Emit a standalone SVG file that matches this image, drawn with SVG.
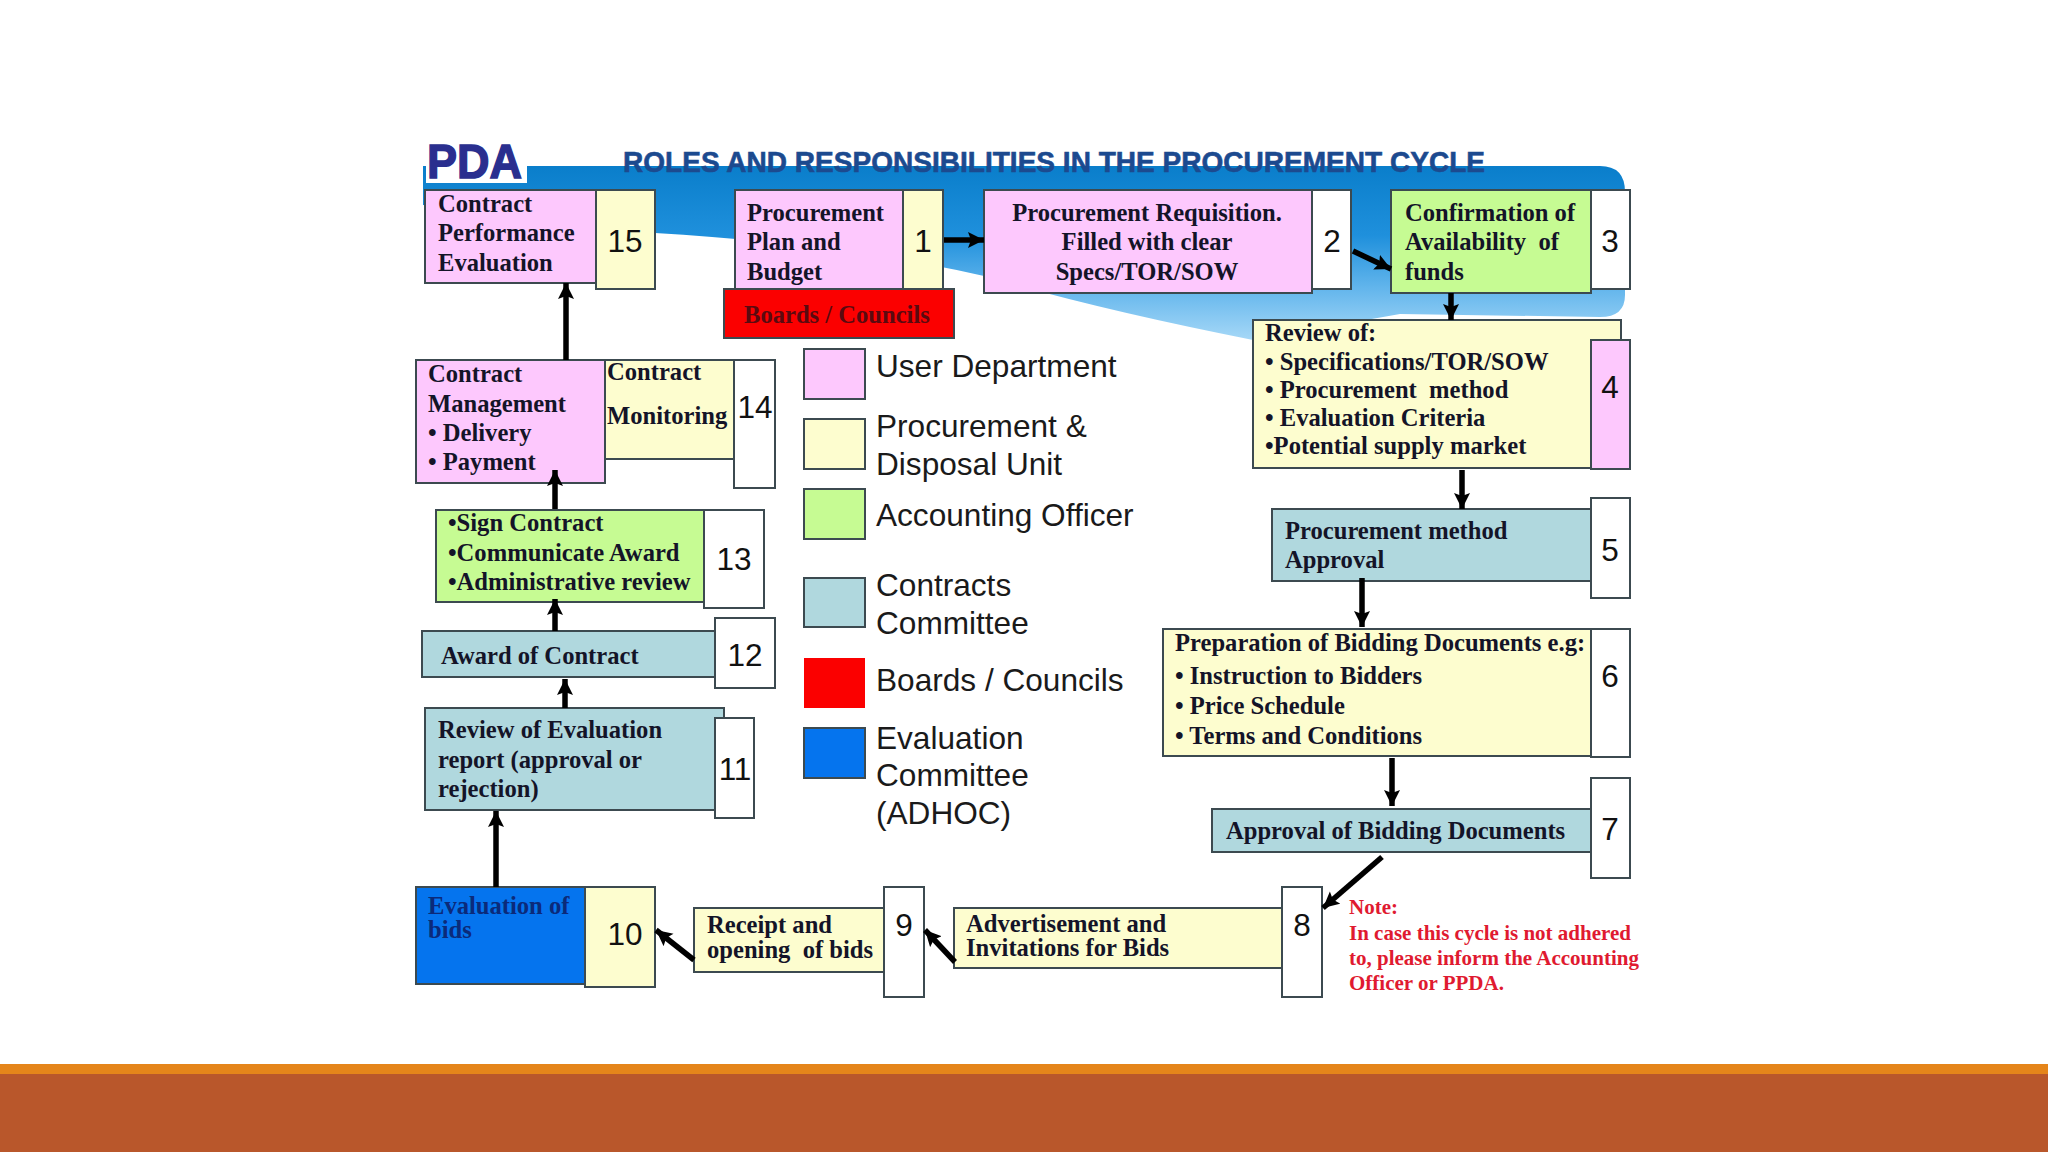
<svg xmlns="http://www.w3.org/2000/svg" width="2048" height="1152" viewBox="0 0 2048 1152">
<style>
.b{stroke:#3c4a50;stroke-width:2}
.pk{fill:#fdc8fd}.yl{fill:#fdfdcf}.gr{fill:#c6fb93}.tl{fill:#b0d8de}.wh{fill:#fff}.rd{fill:#fb0000}.bl{fill:#0574ee}
.t{font-family:"Liberation Serif",serif;font-weight:bold;font-size:24.6px;fill:#141428}
.n{font-family:"Liberation Sans",sans-serif;font-size:31.5px;fill:#111;text-anchor:middle}
.l{font-family:"Liberation Sans",sans-serif;font-size:31.6px;fill:#1a1a1a}
.c{stroke:#000;stroke-width:5.5;fill:none;marker-end:url(#a)}
</style>
<defs>
<marker id="a" markerUnits="userSpaceOnUse" markerWidth="20" markerHeight="20" refX="16" refY="8" orient="auto"><path d="M0 0L16 8L0 16L3 8Z" fill="#000"/></marker>
<linearGradient id="sw" x1="0" y1="0" x2="0" y2="1"><stop offset="0" stop-color="#0a7ecb"/><stop offset=".4" stop-color="#1f90dc"/><stop offset=".7" stop-color="#62b5ec"/><stop offset="1" stop-color="#a6d8f7"/></linearGradient>
</defs>
<rect width="2048" height="1152" fill="#fff"/>
<rect y="1064" width="2048" height="10" fill="#e5851a"/>
<rect y="1074" width="2048" height="78" fill="#b9572b"/>
<path id="swoosh" d="M423 166H1600Q1625 166 1625 192V295Q1625 317 1600 317L1400 314L1253 340Q1100 310 984 276Q850 245 655 233L423 205Z" fill="url(#sw)"/>
<rect x="426" y="130" width="101" height="53" fill="#fff"/>
<text x="427" y="178" font-family="Liberation Sans,sans-serif" font-weight="bold" font-size="49" fill="#2a2f8f" stroke="#2a2f8f" stroke-width="1.5" textLength="95" lengthAdjust="spacingAndGlyphs">PDA</text>
<text x="623" y="172" font-family="Liberation Sans,sans-serif" font-weight="bold" font-size="29" fill="#1c4a8f" stroke="#1c4a8f" stroke-width=".6" textLength="862" lengthAdjust="spacingAndGlyphs">ROLES AND RESPONSIBILITIES IN THE PROCUREMENT CYCLE</text>
<g id="n15"><rect class="b pk" x="425" y="190" width="171" height="93"/><rect class="b yl" x="596" y="190" width="59" height="99"/><text class="t" x="438" y="212">Contract</text><text class="t" x="438" y="241">Performance</text><text class="t" x="438" y="271">Evaluation</text><text class="n" x="625" y="252">15</text></g>
<g id="n1"><rect class="b pk" x="735" y="190" width="168" height="99"/><rect class="b yl" x="903" y="190" width="40" height="99"/><text class="t" x="747" y="221">Procurement</text><text class="t" x="747" y="250">Plan and</text><text class="t" x="747" y="280">Budget</text><text class="n" x="923" y="252">1</text></g>
<g id="boards"><rect class="b rd" x="724" y="289" width="230" height="49"/><text class="t" x="744" y="323" style="fill:#5a0a10">Boards / Councils</text></g>
<g id="n2"><rect class="b pk" x="984" y="190" width="328" height="103"/><rect class="b wh" x="1312" y="190" width="39" height="99"/><g text-anchor="middle"><text class="t" x="1147" y="221">Procurement Requisition.</text><text class="t" x="1147" y="250">Filled with clear</text><text class="t" x="1147" y="280">Specs/TOR/SOW</text></g><text class="n" x="1332" y="252">2</text></g>
<g id="n3"><rect class="b gr" x="1391" y="190" width="200" height="103"/><rect class="b wh" x="1591" y="190" width="39" height="99"/><text class="t" x="1405" y="221">Confirmation of</text><text class="t" x="1405" y="250" xml:space="preserve">Availability  of</text><text class="t" x="1405" y="280">funds</text><text class="n" x="1610" y="252">3</text></g>
<g id="n4"><rect class="b yl" x="1253" y="320" width="368" height="148"/><rect class="b pk" x="1591" y="340" width="39" height="129"/><text class="t" x="1265" y="341">Review of:</text><text class="t" x="1265" y="370">• Specifications/TOR/SOW</text><text class="t" x="1265" y="398" xml:space="preserve">• Procurement  method</text><text class="t" x="1265" y="426">• Evaluation Criteria</text><text class="t" x="1265" y="454">•Potential supply market</text><text class="n" x="1610" y="398">4</text></g>
<g id="n5"><rect class="b tl" x="1272" y="509" width="319" height="72"/><rect class="b wh" x="1591" y="498" width="39" height="100"/><text class="t" x="1285" y="539">Procurement method</text><text class="t" x="1285" y="568">Approval</text><text class="n" x="1610" y="561">5</text></g>
<g id="n6"><rect class="b yl" x="1163" y="629" width="428" height="127"/><rect class="b wh" x="1591" y="629" width="39" height="128"/><text class="t" x="1175" y="651">Preparation of Bidding Documents e.g:</text><text class="t" x="1175" y="684">• Instruction to Bidders</text><text class="t" x="1175" y="714">• Price Schedule</text><text class="t" x="1175" y="744">• Terms and Conditions</text><text class="n" x="1610" y="687">6</text></g>
<g id="n7"><rect class="b tl" x="1212" y="809" width="379" height="43"/><rect class="b wh" x="1591" y="778" width="39" height="100"/><text class="t" x="1226" y="839">Approval of Bidding Documents</text><text class="n" x="1610" y="840">7</text></g>
<g id="n8"><rect class="b yl" x="954" y="908" width="328" height="60"/><rect class="b wh" x="1282" y="887" width="40" height="110"/><text class="t" x="966" y="932">Advertisement and</text><text class="t" x="966" y="956">Invitations for Bids</text><text class="n" x="1302" y="936">8</text></g>
<g id="n9"><rect class="b yl" x="694" y="908" width="190" height="64"/><rect class="b wh" x="884" y="887" width="40" height="110"/><text class="t" x="707" y="933">Receipt and</text><text class="t" x="707" y="958" xml:space="preserve">opening  of bids</text><text class="n" x="904" y="936">9</text></g>
<g id="n10"><rect class="b bl" x="416" y="887" width="169" height="97"/><rect class="b yl" x="585" y="887" width="70" height="100"/><text class="t" x="428" y="914" style="fill:#0b2a7a">Evaluation of</text><text class="t" x="428" y="938" style="fill:#0b2a7a">bids</text><text class="n" x="625" y="945">10</text></g>
<g id="n11"><rect class="b tl" x="425" y="708" width="299" height="102"/><rect class="b wh" x="715" y="718" width="39" height="100"/><text class="t" x="438" y="738">Review of Evaluation</text><text class="t" x="438" y="768">report (approval or</text><text class="t" x="438" y="797">rejection)</text><text class="n" x="735" y="780">11</text></g>
<g id="n12"><rect class="b tl" x="422" y="631" width="293" height="46"/><rect class="b wh" x="715" y="618" width="60" height="70"/><text class="t" x="441" y="664">Award of Contract</text><text class="n" x="745" y="666">12</text></g>
<g id="n13"><rect class="b gr" x="436" y="510" width="268" height="92"/><rect class="b wh" x="704" y="510" width="60" height="98"/><text class="t" x="448" y="531">•Sign Contract</text><text class="t" x="448" y="561">•Communicate Award</text><text class="t" x="448" y="590">•Administrative review</text><text class="n" x="734" y="570">13</text></g>
<g id="n14"><rect class="b yl" x="605" y="360" width="129" height="99"/><rect class="b pk" x="416" y="360" width="189" height="123"/><rect class="b wh" x="734" y="360" width="41" height="128"/><text class="t" x="428" y="382">Contract</text><text class="t" x="428" y="412">Management</text><text class="t" x="428" y="441">• Delivery</text><text class="t" x="428" y="470">• Payment</text><text class="t" x="607" y="380">Contract</text><text class="t" x="607" y="424">Monitoring</text><text class="n" x="755" y="418">14</text></g>
<g id="legend">
<rect class="b pk" x="804" y="349" width="61" height="50"/><text class="l" x="876" y="377">User Department</text>
<rect class="b yl" x="804" y="419" width="61" height="50"/><text class="l" x="876" y="437">Procurement &amp;</text><text class="l" x="876" y="475">Disposal Unit</text>
<rect class="b gr" x="804" y="489" width="61" height="50"/><text class="l" x="876" y="526">Accounting Officer</text>
<rect class="b tl" x="804" y="578" width="61" height="49"/><text class="l" x="876" y="596">Contracts</text><text class="l" x="876" y="634">Committee</text>
<rect class="rd" x="804" y="658" width="61" height="50"/><text class="l" x="876" y="691">Boards / Councils</text>
<rect class="b bl" x="804" y="728" width="61" height="50"/><text class="l" x="876" y="749">Evaluation</text><text class="l" x="876" y="786">Committee</text><text class="l" x="876" y="824">(ADHOC)</text>
</g>
<g id="connectors">
<path class="c" d="M566 360V283"/>
<path class="c" d="M555 509V470"/>
<path class="c" d="M555 631V599"/>
<path class="c" d="M565 708V679"/>
<path class="c" d="M496 887V811"/>
<path class="c" d="M944 240H984"/>
<path class="c" d="M1353 251L1391 269"/>
<path class="c" d="M1451 293V320"/>
<path class="c" d="M1462 470V509"/>
<path class="c" d="M1362 578V627"/>
<path class="c" d="M1392 758V806"/>
<path class="c" d="M1382 857L1323 908"/>
<path class="c" d="M955 962L925 930"/>
<path class="c" d="M694 960L656 930"/>
</g>
<g id="note" font-family="Liberation Serif,serif" font-weight="bold" font-size="21" fill="#e01a30"><text x="1349" y="914">Note:</text><text x="1349" y="940">In case this cycle is not adhered</text><text x="1349" y="965">to, please inform the Accounting</text><text x="1349" y="990">Officer or PPDA.</text></g>
</svg>
